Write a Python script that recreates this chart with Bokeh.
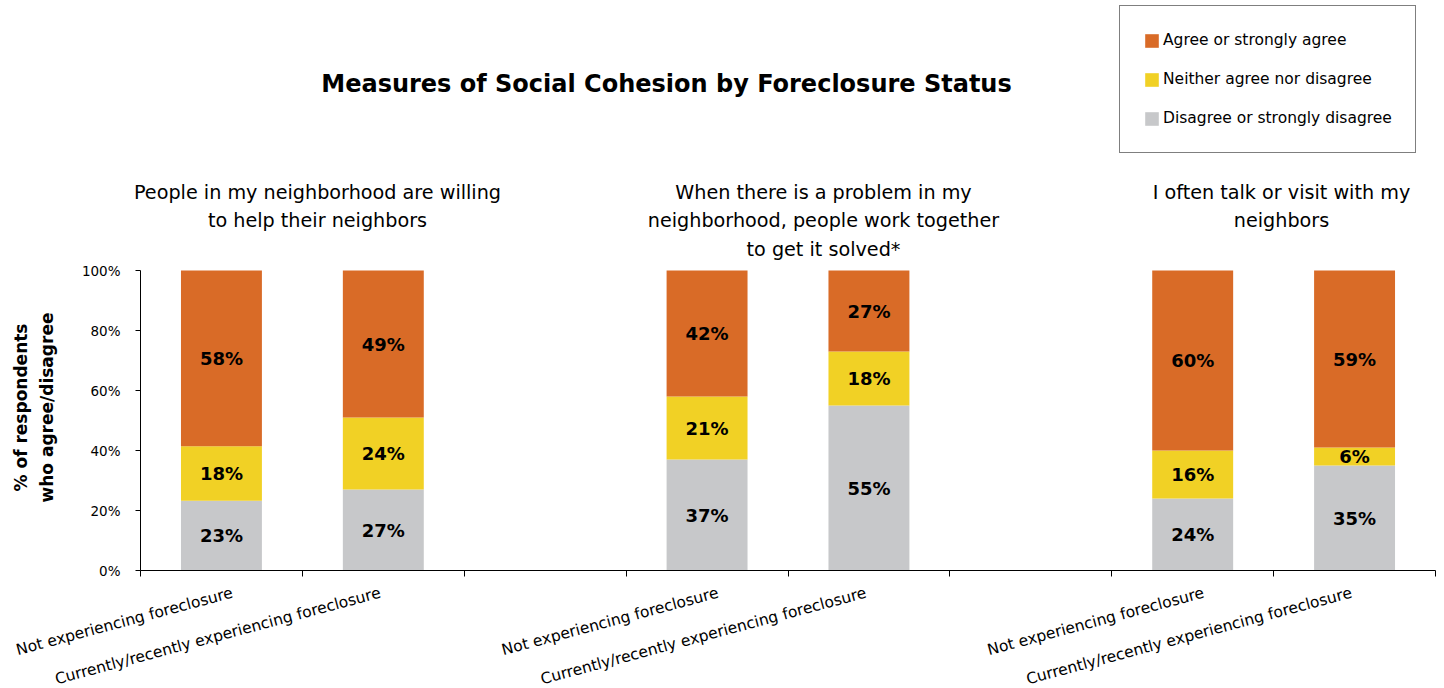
import math
from bokeh.plotting import figure
from bokeh.models import (ColumnDataSource, FixedTicker, PrintfTickFormatter, Label,
                          Legend, LegendItem, Range1d)
from bokeh.core.properties import value
from bokeh.embed import file_html
from bokeh.resources import INLINE

# ---------------- data ----------------
chart_title = "Measures of Social Cohesion by Foreclosure Status"
questions = [
    "People in my neighborhood are willing\nto help their neighbors",
    "When there is a problem in my\nneighborhood, people work together\nto get it solved*",
    "I often talk or visit with my\nneighbors",
]
statuses = ["Not experiencing foreclosure", "Currently/recently experiencing foreclosure"]
series_names = ["Agree or strongly agree", "Neither agree nor disagree", "Disagree or strongly disagree"]
# order of bars: q1-not, q1-current, q2-not, q2-current, q3-not, q3-current
agree = [58, 49, 42, 27, 60, 59]
neither = [18, 24, 21, 18, 16, 6]
disagree = [23, 27, 37, 55, 24, 35]
y_ticks = [0, 20, 40, 60, 80, 100]
y_axis_title = "% of respondents\nwho agree/disagree"

# ---------------- style / layout ----------------
C_AGREE = "#D96B27"
C_NEITHER = "#F1D125"
C_DISAGREE = "#C7C8CA"
FONT = "DejaVu Sans"
W, H = 1436, 688
AX_LEFT, AX_RIGHT = 140, 1435          # pixel x of the category axis ends
AX_TOP, AX_BOTTOM = 270, 570           # pixel y of 100% and 0%
N_SLOTS = 8  # 3 questions x (2 bars + 1 gap), last gap dropped
BAR_W = 0.5
SLOT = (AX_RIGHT - AX_LEFT) / N_SLOTS


def dx(px):
    return (px - AX_LEFT) / SLOT


def dy(py):
    return (AX_BOTTOM - py) * 100 / (AX_BOTTOM - AX_TOP)


# positions of bars (slot centers)
x_pos = []
status_of_bar = []
for qi in range(len(questions)):
    for si in range(len(statuses)):
        x_pos.append(qi * 3 + si + 0.5)
        status_of_bar.append(si)

totals = [a + n + d for a, n, d in zip(agree, neither, disagree)]
d_top = [d / t * 100 for d, t in zip(disagree, totals)]
n_top = [(d + n) / t * 100 for d, n, t in zip(disagree, neither, totals)]
a_top = [(d + n + a) / t * 100 for d, n, a, t in zip(disagree, neither, agree, totals)]

src = ColumnDataSource(dict(
    x=x_pos, zero=[0] * len(x_pos), d_top=d_top, n_top=n_top, a_top=a_top,
))

# one figure whose frame is the whole canvas; the axes sit at fixed locations
p = figure(width=W, height=H, output_backend="svg", toolbar_location=None,
           x_range=Range1d(dx(0), dx(W)), y_range=Range1d(dy(H), dy(0)),
           min_border_left=0, min_border_right=0, min_border_top=0, min_border_bottom=0)
p.outline_line_color = None
p.grid.visible = False
p.background_fill_color = "white"

r_d = p.vbar(x="x", width=BAR_W, bottom="zero", top="d_top", source=src,
             fill_color=C_DISAGREE, line_color=None)
r_n = p.vbar(x="x", width=BAR_W, bottom="d_top", top="n_top", source=src,
             fill_color=C_NEITHER, line_color=None)
r_a = p.vbar(x="x", width=BAR_W, bottom="n_top", top="a_top", source=src,
             fill_color=C_AGREE, line_color=None)

# value labels
lx, ly, lt = [], [], []
for i in range(len(x_pos)):
    for lo, hi, v in ((0, d_top[i], disagree[i]), (d_top[i], n_top[i], neither[i]),
                      (n_top[i], a_top[i], agree[i])):
        lx.append(x_pos[i])
        ly.append((lo + hi) / 2)
        lt.append(f"{v}%")
p.text(x=lx, y=ly, text=lt, text_font=value(FONT), text_font_style="bold",
       text_font_size="18px", text_color="black", text_align="center",
       text_baseline="middle")

# y axis
p.yaxis.fixed_location = 0
p.yaxis.bounds = (0, 100)
p.yaxis.ticker = FixedTicker(ticks=y_ticks)
p.yaxis.formatter = PrintfTickFormatter(format="%d%%")
p.yaxis.major_tick_out = 5
p.yaxis.major_tick_in = 0
p.yaxis.minor_tick_line_color = None
p.yaxis.major_label_standoff = 15
p.yaxis.major_label_text_font = FONT
p.yaxis.major_label_text_font_size = "13.5px"
p.yaxis.major_label_text_color = "black"
p.yaxis.axis_line_color = "black"
p.yaxis.major_tick_line_color = "black"

# y axis title (rotated two-line text)
p.add_layout(Label(x=dx(33), y=dy(407), text=y_axis_title, angle=90, angle_units="deg",
                   text_align="center", text_baseline="middle", text_font=FONT,
                   text_font_style="bold", text_font_size="17px", text_line_height=1.3,
                   text_color="black"))

# x axis: only the boundary marks between categories
p.xaxis.fixed_location = 0
p.xaxis.bounds = (0, N_SLOTS)
p.xaxis.ticker = FixedTicker(ticks=[], minor_ticks=list(range(N_SLOTS + 1)))
p.xaxis.minor_tick_out = 6
p.xaxis.minor_tick_in = 0
p.xaxis.minor_tick_line_color = "black"
p.xaxis.major_tick_line_color = None
p.xaxis.axis_line_color = "black"

# rotated category labels
label_shift_px = [11, -3]
for xp, s in zip(x_pos, status_of_bar):
    p.add_layout(Label(x=xp, y=0, x_offset=label_shift_px[s], y_offset=-22,
                       text=statuses[s], angle=15, angle_units="deg",
                       text_align="right", text_baseline="alphabetic",
                       text_font=FONT, text_font_size="15.5px", text_color="black"))

# chart title
p.add_layout(Label(x=dx(666), y=dy(69), text=chart_title, text_align="center",
                   text_baseline="top", text_font=FONT, text_font_style="bold",
                   text_font_size="24px", text_color="black"))

# question titles
q_centers = [317, 823, 1281]
for q, cx in zip(questions, q_centers):
    p.add_layout(Label(x=dx(cx), y=dy(180), text=q, text_align="center",
                       text_baseline="top", text_font=FONT, text_font_size="19.2px",
                       text_line_height=1.25, text_color="black"))

# legend
legend = Legend(items=[LegendItem(label=series_names[0], renderers=[r_a]),
                       LegendItem(label=series_names[1], renderers=[r_n]),
                       LegendItem(label=series_names[2], renderers=[r_d])],
                location=(1119, H - 153))
legend.border_line_color = "black"
legend.border_line_width = 1
legend.background_fill_color = "white"
legend.background_fill_alpha = 1
legend.padding = 23
legend.spacing = 17
legend.margin = 0
legend.label_height = 22
legend.glyph_height = 17
legend.glyph_width = 17
legend.label_standoff = 3
legend.label_text_font = FONT
legend.label_text_font_size = "15.5px"
legend.label_text_color = "black"
p.add_layout(legend)

open("out.html", "w").write(file_html(p, INLINE))
